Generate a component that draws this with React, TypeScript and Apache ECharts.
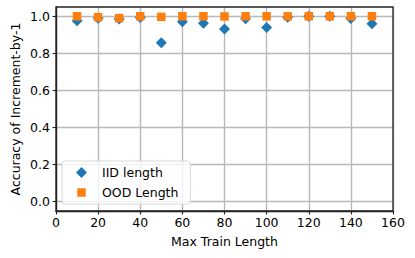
import React, { useEffect, useRef } from "react";
import * as echarts from "echarts";

const maxTrainLength = [10, 20, 30, 40, 50, 60, 70, 80, 90, 100, 110, 120, 130, 140, 150];
const iidAccuracy = [0.976, 0.99, 0.985, 0.994, 0.857, 0.97, 0.963, 0.931, 0.987, 0.939, 0.995, 1.0, 1.0, 0.988, 0.96];
const oodAccuracy = [1.0, 0.995, 0.99, 1.0, 0.997, 1.0, 1.0, 0.999, 1.0, 1.0, 1.0, 1.0, 1.0, 1.0, 1.0];
const Y_MIN = -0.05;
const Y_MAX = 1.05;
const Y_TICK_MIN = 0;
const Y_TICK_MAX = 1;
const Y_TICK_STEP = 0.2;
const FONT = "DejaVu Sans";

const GRID_TOP = 7;
const GRID_BOTTOM = 47;
const GRID_H = 258 - GRID_TOP - GRID_BOTTOM;
const pad = (GRID_H * (Y_TICK_MIN - Y_MIN)) / (Y_MAX - Y_MIN);

export default function App() {
  const ref = useRef<HTMLDivElement>(null);
  useEffect(() => {
    const chart = echarts.init(ref.current!, null, { renderer: "svg" });
    const iid = maxTrainLength.map((x, i) => [x, iidAccuracy[i]]);
    const ood = maxTrainLength.map((x, i) => [x, oodAccuracy[i]]);
    const grey = { color: "#b8b8b8", width: 1.4 };
    chart.setOption({
      animation: false,
      backgroundColor: "#ffffff",
      grid: [
        { left: 56, right: 22, top: GRID_TOP, bottom: GRID_BOTTOM, show: true, borderColor: "#222222", borderWidth: 1.3, backgroundColor: "rgba(0,0,0,0)", z: 3 },
        { left: 56, right: 22, top: GRID_TOP + pad, bottom: GRID_BOTTOM + pad, show: false },
      ],
      legend: {
        orient: "vertical",
        left: 62,
        top: 161,
        backgroundColor: "rgba(255,255,255,0.8)",
        borderColor: "#d8d8d8",
        borderWidth: 1,
        borderRadius: 3,
        padding: [5, 12, 5, 14],
        itemGap: 7,
        itemWidth: 11,
        itemHeight: 11,
        textStyle: { fontFamily: FONT, fontSize: 12.5, color: "#000", padding: [0, 0, 0, 10] },
        data: [
          { name: "IID length", icon: "diamond" },
          { name: "OOD Length", icon: "path://M0,0M1.25,1.25h8.5v8.5h-8.5zM11,11" },
        ],
      },
      xAxis: [
        {
          gridIndex: 0,
          type: "value",
          min: 0,
          max: 160,
          interval: 20,
          name: "Max Train Length",
          nameLocation: "middle",
          nameGap: 24,
          nameTextStyle: { fontFamily: FONT, fontSize: 12.5, color: "#000" },
          axisLine: { show: true, onZero: false, lineStyle: { color: "#222222", width: 1.3 } },
          axisTick: { show: true, length: 3.5, lineStyle: { color: "#222222", width: 1.1 } },
          axisLabel: { fontFamily: FONT, fontSize: 12.5, color: "#000", margin: 5 },
          splitLine: { show: true, lineStyle: grey },
        },
        {
          gridIndex: 1,
          type: "value",
          min: 0,
          max: 160,
          show: false,
        },
      ],
      yAxis: [
        {
          gridIndex: 0,
          type: "value",
          min: Y_MIN,
          max: Y_MAX,
          name: "Accuracy of Increment-by-1",
          nameLocation: "middle",
          nameGap: 34,
          nameTextStyle: { fontFamily: FONT, fontSize: 12.5, color: "#000" },
          axisLine: { show: true, onZero: false, lineStyle: { color: "#222222", width: 1.3 } },
          axisTick: { show: false },
          axisLabel: { show: false },
          splitLine: { show: false },
        },
        {
          gridIndex: 1,
          type: "value",
          min: Y_TICK_MIN,
          max: Y_TICK_MAX,
          interval: Y_TICK_STEP,
          axisLine: { show: false },
          axisTick: { show: true, length: 3.5, lineStyle: { color: "#222222", width: 1.1 } },
          axisLabel: {
            fontFamily: FONT,
            fontSize: 12.5,
            color: "#000",
            margin: 6,
            formatter: (v: number) => v.toFixed(1),
          },
          splitLine: { show: true, lineStyle: grey },
        },
      ],
      series: [
        {
          name: "IID length",
          type: "scatter",
          xAxisIndex: 0,
          yAxisIndex: 0,
          symbol: "diamond",
          symbolSize: 11,
          itemStyle: { color: "#1f77b4", opacity: 1 },
          data: iid,
          z: 3,
        },
        {
          name: "OOD Length",
          type: "scatter",
          xAxisIndex: 0,
          yAxisIndex: 0,
          symbol: "rect",
          symbolSize: 8.5,
          itemStyle: { color: "#ff7f0e", opacity: 1 },
          data: ood,
          z: 4,
        },
      ],
    });
    return () => chart.dispose();
  }, []);
  return <div ref={ref} style={{ position: "fixed", left: 0, top: 0, width: 415, height: 258 }} />;
}
